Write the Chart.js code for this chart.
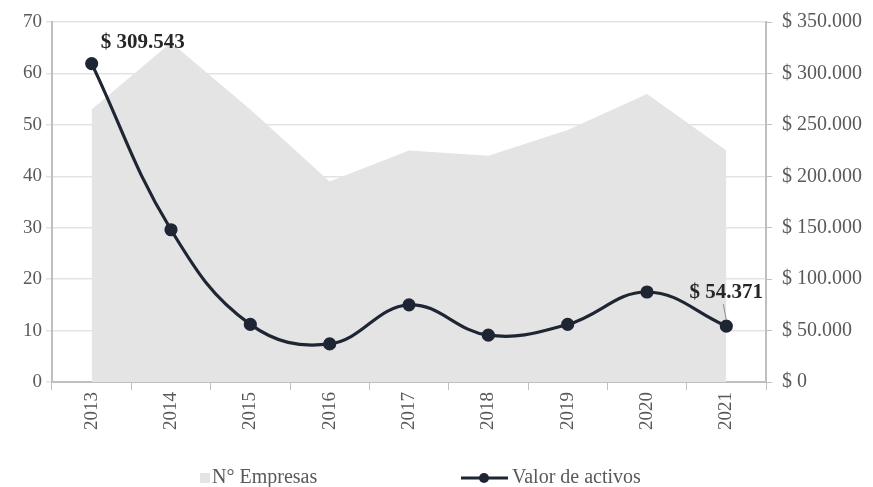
<!DOCTYPE html>
<html>
<head>
<meta charset="utf-8">
<script src="https://cdn.jsdelivr.net/npm/chart.js@4.4.1/dist/chart.umd.min.js"></script>
<style>
  html, body { margin: 0; padding: 0; background: #fff; }
  #wrap { position: relative; width: 873px; height: 487px; }
</style>
</head>
<body>
<div id="wrap"><canvas id="chart" width="873" height="487"></canvas></div>
<script>
const years = ["2013", "2014", "2015", "2016", "2017", "2018", "2019", "2020", "2021"];
const empresas = [53, 66, 53, 39, 45, 44, 49, 56, 45];
const activos = [309543, 148000, 56000, 37000, 75000, 45500, 56000, 87500, 54371];
const leftTicks = [0, 10, 20, 30, 40, 50, 60, 70];
const rightTicks = [0, 50000, 100000, 150000, 200000, 250000, 300000, 350000];

const FONT = "'Liberation Serif', 'Times New Roman', serif";
const GREY_TXT = "#595959";
const AXIS = "#bfbfbf";
const LINE = "#1e2533";

function money(v) {
  return "$ " + Math.round(v).toString().replace(/\B(?=(\d{3})+(?!\d))/g, ".");
}

// labels on first and last point + custom legend
const extras = {
  id: "extras",
  afterDatasetsDraw(chart) {
    const ctx = chart.ctx;
    const meta = chart.getDatasetMeta(1);
    const first = meta.data[0];
    const last = meta.data[meta.data.length - 1];
    ctx.save();
    ctx.fillStyle = "#262626";
    ctx.font = "bold 21px " + FONT;
    ctx.textAlign = "center";
    ctx.textBaseline = "middle";
    ctx.fillText(money(activos[0]), first.x + 51, first.y - 21);
    ctx.fillText(money(activos[activos.length - 1]), last.x, last.y - 33);
    // leader line
    ctx.strokeStyle = "#8c8c8c";
    ctx.lineWidth = 1;
    ctx.beginPath();
    ctx.moveTo(last.x - 3, last.y - 22);
    ctx.lineTo(last.x, last.y - 6);
    ctx.stroke();

    // legend
    const ly = 478;
    ctx.fillStyle = "#e4e4e4";
    ctx.fillRect(200, ly - 5, 10, 10);
    ctx.font = "20px " + FONT;
    ctx.fillStyle = GREY_TXT;
    ctx.textAlign = "left";
    ctx.fillText("N° Empresas", 212, ly);
    ctx.strokeStyle = LINE;
    ctx.lineWidth = 3;
    ctx.beginPath();
    ctx.moveTo(461, ly);
    ctx.lineTo(508, ly);
    ctx.stroke();
    ctx.fillStyle = LINE;
    ctx.beginPath();
    ctx.arc(484, ly, 5, 0, Math.PI * 2);
    ctx.fill();
    ctx.fillStyle = GREY_TXT;
    ctx.fillText("Valor de activos", 512, ly);
    ctx.restore();
  }
};

new Chart(document.getElementById("chart"), {
  type: "line",
  data: {
    labels: years,
    datasets: [
      {
        label: "N° Empresas",
        data: empresas,
        yAxisID: "y",
        fill: "origin",
        backgroundColor: "#e4e4e4",
        borderWidth: 0,
        pointRadius: 0,
        tension: 0,
        order: 2
      },
      {
        label: "Valor de activos",
        data: activos,
        yAxisID: "y2",
        borderColor: LINE,
        backgroundColor: LINE,
        borderWidth: 3.2,
        pointRadius: 5,
        pointBackgroundColor: LINE,
        tension: 0.4,
        fill: false,
        order: 1
      }
    ]
  },
  options: {
    responsive: false,
    animation: false,
    layout: { padding: { top: 22, bottom: 55, left: 0, right: 0 } },
    plugins: { legend: { display: false }, tooltip: { enabled: false } },
    scales: {
      x: {
        offset: true,
        grid: { offset: true, drawOnChartArea: false, color: AXIS, tickLength: 8 },
        border: { color: AXIS, width: 2 },
        ticks: {
          color: GREY_TXT,
          font: { family: FONT, size: 19 },
          maxRotation: 90,
          minRotation: 90,
          padding: 2
        }
      },
      y: {
        position: "left",
        min: 0,
        max: 70,
        afterFit(s) { s.width = 52; },
        afterBuildTicks(s) { s.ticks = leftTicks.map(v => ({ value: v })); },
        grid: { color: "#e3e3e3", lineWidth: 1.5, tickLength: 6 },
        border: { color: AXIS, width: 2 },
        ticks: { color: GREY_TXT, font: { family: FONT, size: 19 }, padding: 4 }
      },
      y2: {
        position: "right",
        min: 0,
        max: 350000,
        afterFit(s) { s.width = 107; },
        afterBuildTicks(s) { s.ticks = rightTicks.map(v => ({ value: v })); },
        grid: { drawOnChartArea: false, color: AXIS, tickLength: 6 },
        border: { color: AXIS, width: 2 },
        ticks: {
          color: GREY_TXT,
          font: { family: FONT, size: 20 },
          padding: 10,
          callback: v => money(v)
        }
      }
    }
  },
  plugins: [extras]
});
</script>
</body>
</html>
